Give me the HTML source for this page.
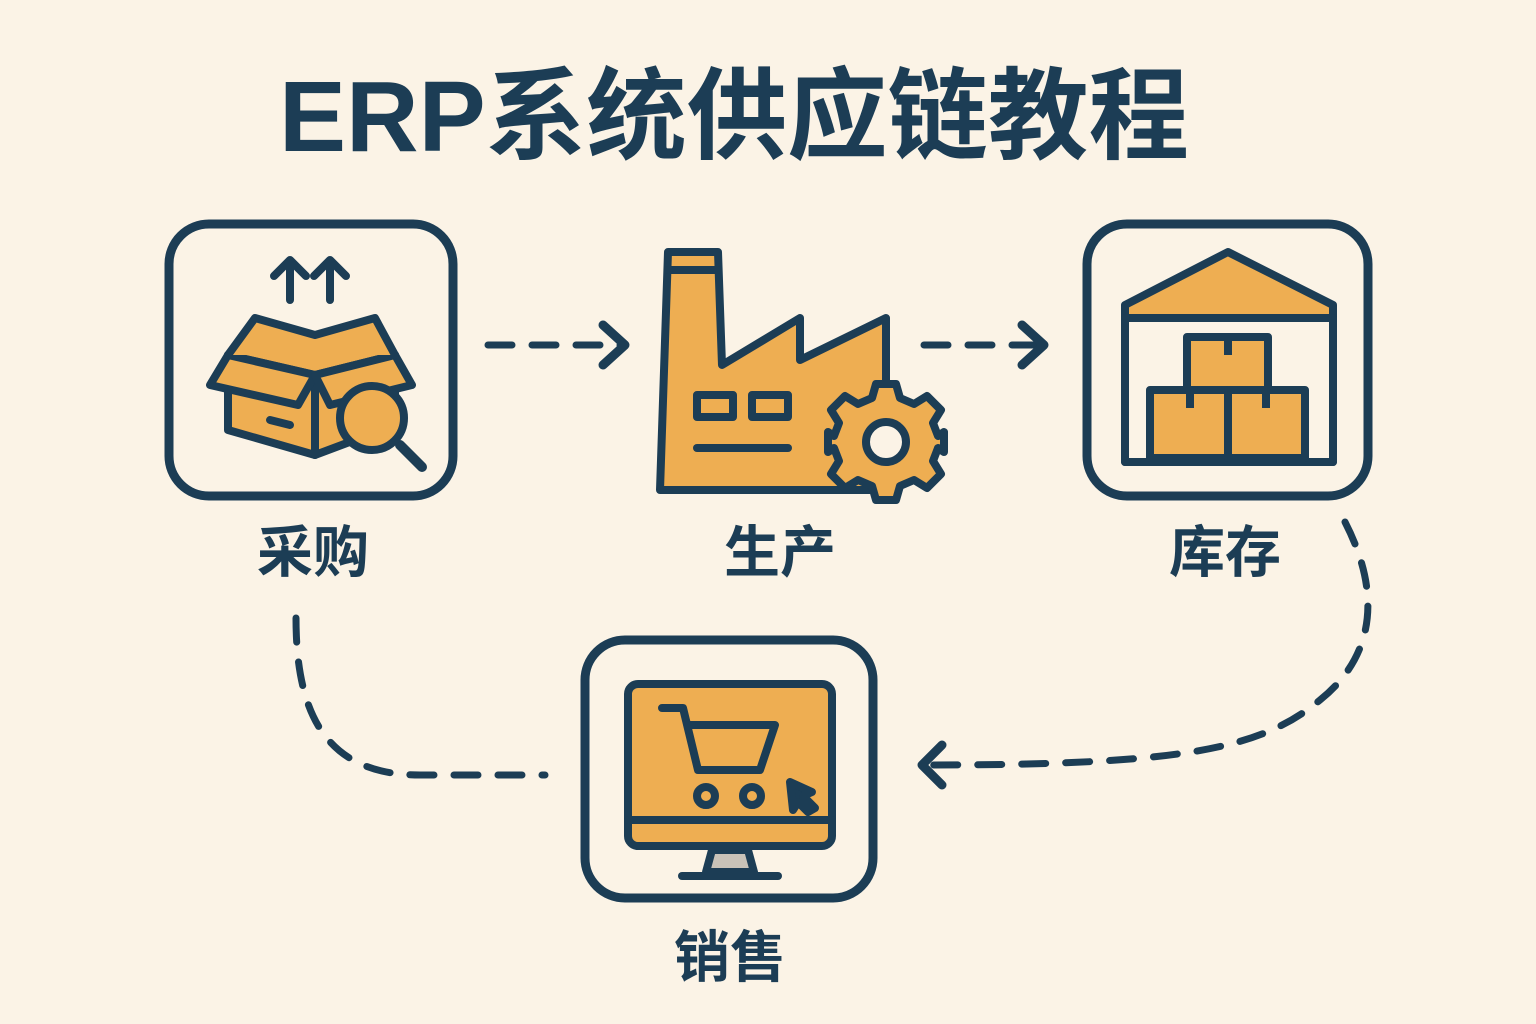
<!DOCTYPE html>
<html><head><meta charset="utf-8"><style>
html,body{margin:0;padding:0;background:#fbf3e6;}
svg{display:block}
text{font-family:"Liberation Sans","Noto Sans CJK SC",sans-serif;font-weight:bold;fill:#1c3d55}
</style></head><body>
<svg width="1536" height="1024" viewBox="0 0 1536 1024">
<rect width="1536" height="1024" fill="#fbf3e6"/>
<text x="734" y="151" font-size="100" text-anchor="middle" textLength="910" lengthAdjust="spacingAndGlyphs">ERP系统供应链教程</text>
<g fill="none" stroke="#1c3d55" stroke-width="9" stroke-linecap="round" stroke-linejoin="round">
<rect x="169" y="224" width="284" height="272" rx="40"/>
<rect x="1087" y="224" width="281" height="272" rx="40"/>
<rect x="585" y="640" width="288" height="258" rx="40"/>
<g stroke-width="7" stroke-dasharray="24 20">
<path d="M488 345 H622"/>
<path d="M924 345 H1040"/>
<path d="M1345 522 C1385 600 1370 660 1320 700 C1260 750 1180 765 925 765"/>
<path d="M296 618 C296 720 330 775 420 775 H545"/>
</g>
<path d="M603 325 L625 345 L603 365"/>
<path d="M1022 325 L1044 345 L1022 365"/>
<path d="M942 745 L922 765 L942 785"/>
</g>
<!-- purchase icon -->
<g stroke="#1c3d55" stroke-width="8" stroke-linejoin="round" stroke-linecap="round">
<path d="M290 300 V262 M274 276 L290 260 L306 276 M330 300 V262 M314 276 L330 260 L346 276" fill="none"/>
<path d="M228 355 L315 335 L395 355 L395 425 L315 455 L228 430 Z" fill="#eeae52"/>
<path d="M228 355 L315 375 L395 355 M315 375 V455" fill="none"/>
<path d="M228 355 L210 385 L298 405 L315 375 Z" fill="#eeae52"/>
<path d="M395 355 L412 385 L330 405 L315 375 Z" fill="#eeae52"/>
<path d="M228 355 L255 318 L315 335 L375 318 L395 355" fill="#eeae52"/>
<path d="M270 420 L290 425" fill="none"/>
<line x1="400" y1="445" x2="422" y2="467" stroke-width="10"/>
<circle cx="372" cy="418" r="32" fill="#eeae52"/>
</g>
<!-- factory -->
<g stroke="#1c3d55" stroke-width="8" stroke-linejoin="round" stroke-linecap="round">
<path d="M660 490 L668 252 L718 252 L722 365 L800 318 L800 360 L886 318 L886 490 Z" fill="#eeae52"/>
<path d="M668 270 H718" fill="none"/>
<rect x="697" y="395" width="36" height="22" fill="none"/>
<rect x="752" y="395" width="36" height="22" fill="none"/>
<path d="M697 448 H788" fill="none"/>
<g transform="translate(886,442)">
<path d="M-10 -58 H10 L14 -44 L28 -38 L41 -46 L55 -32 L47 -19 L52 -6 L58 -10 V10 L52 6 L47 19 L55 32 L41 46 L28 38 L14 44 L10 58 H-10 L-14 44 L-28 38 L-41 46 L-55 32 L-47 19 L-52 6 L-58 10 V-10 L-52 -6 L-47 -19 L-55 -32 L-41 -46 L-28 -38 L-14 -44 Z" fill="#eeae52"/>
<circle r="20" fill="#fbf3e6"/>
</g>
</g>
<!-- warehouse -->
<g stroke="#1c3d55" stroke-width="8" stroke-linejoin="round">
<path d="M1125 462 V305 L1228 252 L1333 305 V462 Z" fill="#eeae52"/>
<path d="M1125 462 V318 H1333 V462 Z" fill="#fbf3e6"/>
<rect x="1187" y="337" width="81" height="53" fill="#eeae52"/>
<rect x="1150" y="390" width="78" height="68" fill="#eeae52"/>
<rect x="1228" y="390" width="77" height="68" fill="#eeae52"/>
<path d="M1228 337 V355 M1190 390 V408 M1266 390 V408" fill="none"/>
</g>
<!-- sales -->
<g stroke="#1c3d55" stroke-width="8" stroke-linejoin="round" stroke-linecap="round">
<rect x="628" y="684" width="204" height="162" rx="10" fill="#eeae52"/>
<path d="M628 820 H832" fill="none"/>
<path d="M712 850 L706 872 H754 L748 850 Z" fill="#c8c2b8"/>
<path d="M682 876 H778" fill="none"/>
<path d="M662 708 H683 L698 770 H760 L775 725 H688" fill="none"/>
<circle cx="706" cy="796" r="9" fill="#eeae52"/>
<circle cx="752" cy="796" r="9" fill="#eeae52"/>
<path d="M790 782 L812 792 L803 796 L815 808 L808 812 L798 802 L793 810 Z" fill="#1c3d55"/>
</g>
<text x="313" y="572" font-size="56" text-anchor="middle">采购</text>
<text x="780" y="572" font-size="56" text-anchor="middle">生产</text>
<text x="1225" y="572" font-size="56" text-anchor="middle">库存</text>
<text x="730" y="977" font-size="56" text-anchor="middle">销售</text>
</svg>
</body></html>
